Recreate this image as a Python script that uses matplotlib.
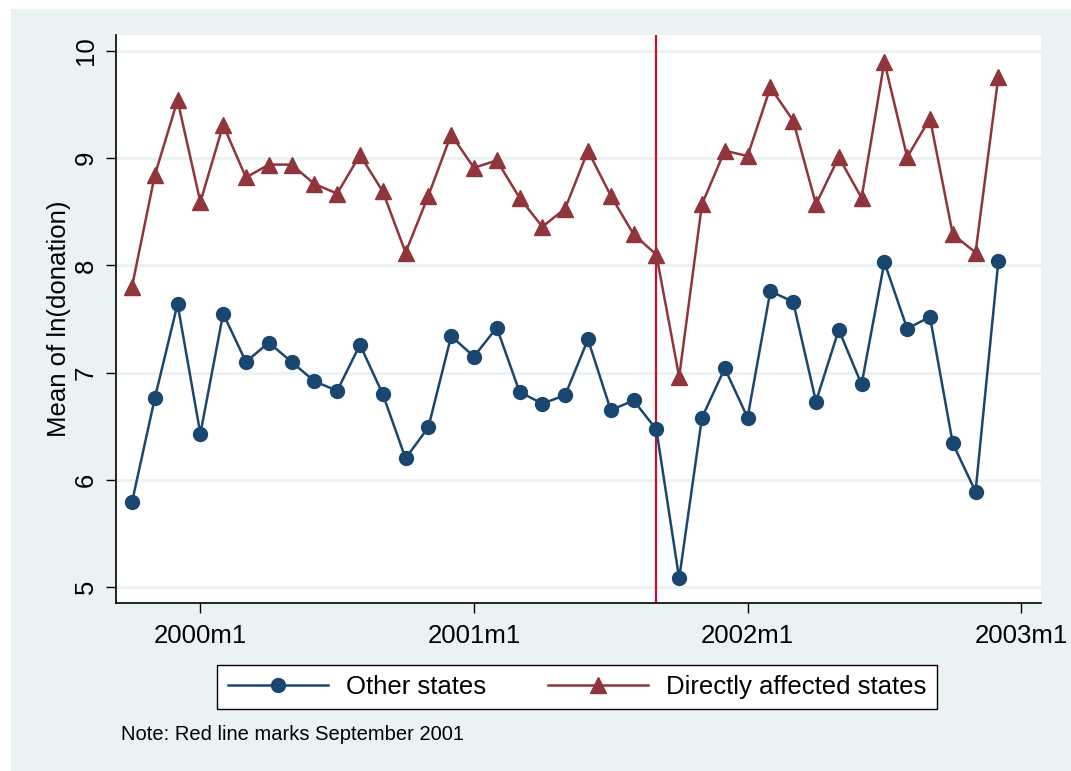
import matplotlib
matplotlib.use("Agg")
import matplotlib.pyplot as plt
from matplotlib.patches import Rectangle

plt.rcParams['font.family'] = ['Liberation Sans', 'DejaVu Sans']

# months from 1999m10 to 2002m12 (index 0 = 1999m10)
months = list(range(39))

other_states = [5.79, 6.76, 7.64, 6.43, 7.55, 7.10, 7.28, 7.10, 6.92, 6.83,
                7.26, 6.80, 6.20, 6.49, 7.34, 7.15, 7.42, 6.82, 6.71, 6.79,
                7.31, 6.65, 6.74, 6.47, 5.08, 6.58, 7.04, 6.58, 7.76, 7.66,
                6.73, 7.40, 6.89, 8.03, 7.41, 7.52, 6.34, 5.89, 8.04]

affected_states = [7.80, 8.84, 9.54, 8.59, 9.31, 8.82, 8.94, 8.94, 8.76, 8.67,
                   9.03, 8.69, 8.12, 8.65, 9.22, 8.91, 8.98, 8.63, 8.36, 8.53,
                   9.07, 8.65, 8.29, 8.10, 6.96, 8.57, 9.07, 9.02, 9.66, 9.35,
                   8.57, 9.01, 8.63, 9.90, 9.01, 9.37, 8.29, 8.12, 9.76]

xtick_pos = [3, 15, 27, 39]
xtick_labels = ["2000m1", "2001m1", "2002m1", "2003m1"]
yticks = [5, 6, 7, 8, 9, 10]
sept_2001 = 23

bg = "#EAF2F3"
navy = "#1A476F"
maroon = "#90353B"

W, H = 1071, 771
fig = plt.figure(figsize=(W / 100, H / 100), dpi=100, facecolor="white")
fig.patches.append(Rectangle((11 / W, 0), 1, 1 - 9 / H, transform=fig.transFigure,
                             facecolor=bg, edgecolor="none", zorder=-10))

ax = fig.add_axes([116 / W, 1 - 603 / H, (1041 - 116) / W, (603 - 35) / H])
ax.set_zorder(1)
ax.set_facecolor("white")

for y in yticks:
    ax.axhline(y, color=bg, lw=2, zorder=1)

ax.plot(months, other_states, color=navy, lw=1.8, marker="o", ms=10,
        label="Other states", zorder=3)
ax.plot(months, affected_states, color=maroon, lw=1.8, marker="^", ms=12,
        label="Directly affected states", zorder=3)
ax.axvline(sept_2001, color="#CC0F2F", lw=1.6, zorder=2)

ax.set_xlim(-0.70, 39.87)
ax.set_ylim(4.851, 10.149)
ax.set_xticks(xtick_pos)
ax.set_xticklabels(xtick_labels)
ax.set_yticks(yticks)
ax.set_yticklabels([str(v) for v in yticks], rotation=90, va="center")
ax.tick_params(axis="both", labelsize=18.5, length=7, width=1, color="black")
ax.tick_params(axis="y", pad=6)
ax.tick_params(axis="x", pad=8)

for side in ["top", "right"]:
    ax.spines[side].set_visible(False)
for side in ["left", "bottom"]:
    ax.spines[side].set_linewidth(1.2)

ax.set_ylabel("Mean of ln(donation)", fontsize=18.5, labelpad=2)

leg = fig.legend(loc="center", bbox_to_anchor=(577 / W, 1 - 687 / H), ncol=2,
                 fontsize=18.5, frameon=True, fancybox=False, handlelength=3.9,
                 columnspacing=2.4, borderpad=0.4, handletextpad=0.7,
                 framealpha=1)
leg.get_frame().set_edgecolor("black")
leg.get_frame().set_facecolor("white")
leg.get_frame().set_linewidth(1)

fig.text(121 / W, 1 - 734 / H, "Note: Red line marks September 2001",
         fontsize=14.5, va="center", ha="left")

fig.savefig("out.png", dpi=100, facecolor=fig.get_facecolor())
